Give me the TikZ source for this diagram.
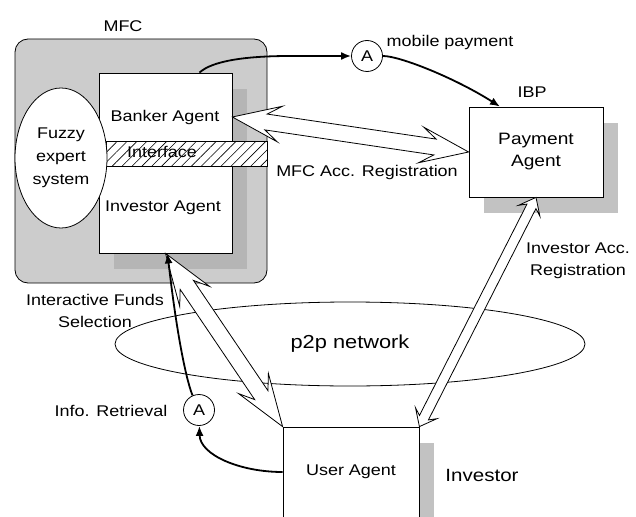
\documentclass[tikz,border=0pt]{standalone}
\usepackage{fontspec}
\setmainfont[FakeStretch=1.16]{Liberation Sans}
\usetikzlibrary{arrows.meta,calc,shadows,patterns.meta,shapes.geometric}

\definecolor{mfcgray}{gray}{0.8}
\definecolor{innergray}{gray}{0.71}
\definecolor{shadowgray}{gray}{0.76}

% wide hollow arrow, head at both ends: from, to, head length, head half width, shaft start, shaft half width
\newcommand\hollowarrow[6]{%
	\draw[line width=.8pt,fill=white] (#1)
		-- ($(#1)!#3!(#2)!#4!90:(#2)$) -- ($(#1)!#5!(#2)!#6!90:(#2)$)
		-- ($(#2)!#5!(#1)!#6!-90:(#1)$) -- ($(#2)!#3!(#1)!#4!-90:(#1)$)
		-- (#2)
		-- ($(#2)!#3!(#1)!#4!90:(#1)$) -- ($(#2)!#5!(#1)!#6!90:(#1)$)
		-- ($(#1)!#5!(#2)!#6!-90:(#2)$) -- ($(#1)!#3!(#2)!#4!-90:(#2)$)
		-- cycle;
}

\begin{document}
\begin{tikzpicture}[x=1pt,y=-1pt,font=\fontsize{15.5}{22}\selectfont,
	agentbox/.style={draw,fill=white,line width=.8pt},
	boxshadow/.style={drop shadow={shadow xshift=15pt,shadow yshift=-16pt,opacity=1,fill=#1}},
	agentcirc/.style={circle,draw,fill=white,line width=.8pt,minimum size=31pt,inner sep=0pt},
	flow/.style={line width=1.8pt,-{Latex[length=10pt,width=8pt]}}]
	\useasboundingbox (0,0) rectangle (636,516);

	% MFC with its agents
	\node[draw,fill=mfcgray,rounded corners=13pt,line width=.8pt,minimum width=252pt,minimum height=244pt] (mfc) at (141,161) {};
	\node (mfclabel) at (123,26) {MFC};
	\node[agentbox,boxshadow=innergray,minimum width=133pt,minimum height=180pt] (agents) at (165.5,163) {};
	\node (banker) at (165,117) {Banker Agent};
	\node (investor) at (163,208) {Investor Agent};
	\node[draw,line width=.8pt,preaction={fill=white},pattern={Lines[angle=45,distance=7pt,line width=.6pt]},
		minimum width=161pt,minimum height=25pt] (iface) at (186.5,153.5) {};
	\node (ifacelabel) at (162,152) {Interface};
	\node[draw,fill=white,ellipse,line width=.8pt,minimum width=92pt,minimum height=140pt,inner sep=0pt,
		align=center,font=\fontsize{15.5}{23}\selectfont] (fuzzy) at (61,158) {Fuzzy\\expert\\system};

	% IBP and the investor
	\node[agentbox,boxshadow=shadowgray,minimum width=134pt,minimum height=90pt,align=center,
		font=\fontsize{16.5}{22}\selectfont] (pay) at (536,152) {Payment\\Agent};
	\node (ibp) at (532,92) {IBP};
	\node[agentbox,boxshadow=shadowgray,minimum width=136pt,minimum height=90pt] (user) at (351,472) {User Agent};
	\node[font=\fontsize{17.7}{22}\selectfont] (invlabel) at (482,475) {Investor};

	\node[draw,ellipse,line width=.8pt,minimum width=470pt,minimum height=84pt,
		font=\fontsize{18.8}{22}\selectfont] (p2p) at (350,344) {p2p network};

	\node[agentcirc] (a1) at (367,56) {A};
	\node[agentcirc] (a2) at (199,410) {A};

	\coordinate (bk) at (banker -| agents.east);
	\hollowarrow{bk}{pay.west}{48pt}{18pt}{34pt}{8pt}
	\hollowarrow{agents.south}{user.north west}{52pt}{18pt}{38pt}{8pt}
	\hollowarrow{user.north east}{pay.south}{15pt}{12pt}{10pt}{5pt}

	\draw[flow] ([xshift=34pt]agents.north) .. controls (212,61) and (245,56) .. (290,56) -- (a1);
	\draw[flow] (a1) .. controls (400,56) and (455,78) .. ([xshift=-36pt]pay.north);
	\draw[flow] (user.west) .. controls (240,472) and (200,455) .. (a2);
	\draw[flow] (a2) .. controls (188,385) and (178,345) .. ([xshift=2pt]agents.south);

	\node (mobile) at (450,42) {mobile payment};
	\node (mfcreg) at (367,172) {MFC Acc. Registration};
	\node[align=center] (invreg) at (578,261) {Investor Acc.\\Registration};
	\node[align=center] (select) at (95,311) {Interactive Funds\\Selection};
	\node (retrieve) at (111,411) {Info. Retrieval};
\end{tikzpicture}
\end{document}
